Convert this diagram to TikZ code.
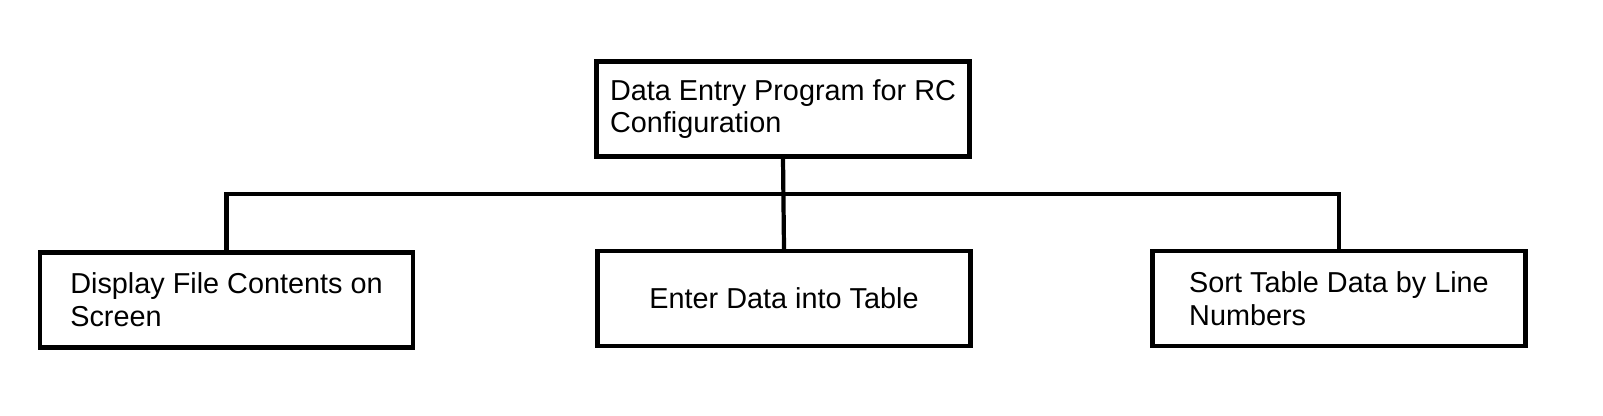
\documentclass[tikz,border=0pt]{standalone}
\usepackage{fontspec}
\setmainfont{Liberation Sans}
\usetikzlibrary{positioning}
\begin{document}
\begin{tikzpicture}[
	box/.style={draw, line width=1.2pt, minimum width=3.73cm, minimum height=0.95cm, align=left, inner sep=0pt},
	link/.style={line width=1.2pt},
	font=\fontsize{8.2pt}{9.3pt}\selectfont
	]
	\useasboundingbox (0,0) rectangle (16.03,-4.15);

	\node[box] (top) at (7.83,-1.09) {Data Entry Program for RC\\Configuration};
	\node[box] (display) at (2.265,-3.00) {Display File Contents on\\Screen};
	\node[box, align=center] (enter) at (7.84,-2.985) {Enter Data into Table};
	\node[box] (sort) at (13.39,-2.985) {Sort Table Data by Line\\Numbers};
	\coordinate (bus) at ([yshift=-0.35cm]top.south);

	% Connections
	\draw[link] (top.south) -- (enter.north);
	\draw[link] (display.north) |- (bus) -| (sort.north);
\end{tikzpicture}
\end{document}
